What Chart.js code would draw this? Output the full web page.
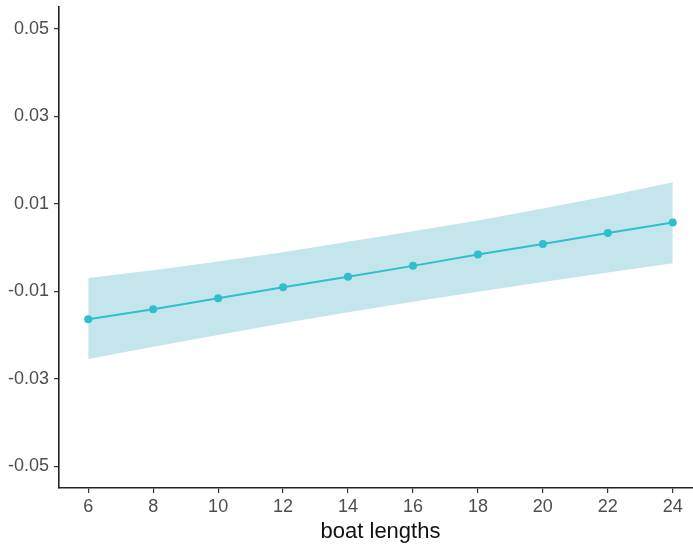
<!DOCTYPE html>
<html>
<head>
<meta charset="utf-8">
<script src="https://cdn.jsdelivr.net/npm/chart.js@4/dist/chart.umd.min.js"></script>
<style>
  html, body { margin: 0; padding: 0; background: #fff; overflow: hidden; }
  #wrap { width: 710px; height: 546px; position: relative; }
</style>
</head>
<body>
<div id="wrap"><canvas id="c" width="710" height="546"></canvas></div>
<script>
const boatLengths = [6, 8, 10, 12, 14, 16, 18, 20, 22, 24];
const fitValues   = [-0.0164, -0.0141, -0.0116, -0.0091, -0.0067, -0.0042, -0.0016, 0.0008, 0.0033, 0.0057];
const upperCI     = [-0.0070, -0.0052, -0.0032, -0.0011, 0.0013, 0.0037, 0.0062, 0.0089, 0.0118, 0.0149];
const lowerCI     = [-0.0255, -0.0227, -0.0200, -0.0173, -0.0148, -0.0124, -0.0101, -0.0079, -0.0057, -0.0036];
const yTicks = [-0.05, -0.03, -0.01, 0.01, 0.03, 0.05];
const xTicks = [6, 8, 10, 12, 14, 16, 18, 20, 22, 24];
const xTitle = 'boat lengths';

const toXY = arr => boatLengths.map((x, i) => ({ x: x, y: arr[i] }));
const FONT = "'Liberation Sans', Arial, sans-serif";

new Chart(document.getElementById('c'), {
  type: 'line',
  data: {
    datasets: [
      {
        label: 'fit',
        data: toXY(fitValues),
        borderColor: '#2fbfca',
        backgroundColor: '#2fbfca',
        borderWidth: 2,
        pointRadius: 4,
        pointBorderWidth: 0,
        pointBackgroundColor: '#2fbfca',
        fill: false,
        tension: 0
      },
      {
        label: 'upper',
        data: toXY(upperCI),
        borderWidth: 0,
        borderColor: 'rgba(0,0,0,0)',
        pointRadius: 0,
        backgroundColor: '#c4e5ec',
        fill: '+1',
        tension: 0
      },
      {
        label: 'lower',
        data: toXY(lowerCI),
        borderWidth: 0,
        borderColor: 'rgba(0,0,0,0)',
        pointRadius: 0,
        fill: false,
        tension: 0
      }
    ]
  },
  options: {
    responsive: false,
    devicePixelRatio: 1,
    animation: false,
    layout: { padding: { top: 7, right: 8, left: 0, bottom: 0 } },
    plugins: { legend: { display: false }, tooltip: { enabled: false } },
    scales: {
      x: {
        type: 'linear',
        min: 5.1,
        max: 24.9,
        afterBuildTicks: s => { s.ticks = xTicks.map(v => ({ value: v })); },
        afterFit: s => { s.height = 58; s.paddingLeft = 0; s.paddingRight = 0; },
        ticks: {
          color: '#4d4d4d',
          font: { family: FONT, size: 18 },
          padding: 3,
          maxRotation: 0,
          callback: v => String(v)
        },
        grid: { display: true, drawOnChartArea: false, drawTicks: true, tickLength: 5, color: '#333', lineWidth: 1.2 },
        border: { display: true, color: '#222', width: 1.6 },
        title: { display: true, text: xTitle, color: '#111', font: { family: FONT, size: 22 }, padding: { top: 0, bottom: 1 } }
      },
      y: {
        type: 'linear',
        min: -0.055,
        max: 0.055,
        afterBuildTicks: s => { s.ticks = yTicks.map(v => ({ value: v })); },
        afterFit: s => { s.width = 59; s.paddingTop = 0; s.paddingBottom = 0; },
        ticks: {
          color: '#4d4d4d',
          font: { family: FONT, size: 18 },
          padding: 5,
          callback: v => v.toFixed(2)
        },
        grid: { display: true, drawOnChartArea: false, drawTicks: true, tickLength: 5, color: '#333', lineWidth: 1.2 },
        border: { display: true, color: '#222', width: 1.6 }
      }
    }
  }
});
</script>
</body>
</html>
